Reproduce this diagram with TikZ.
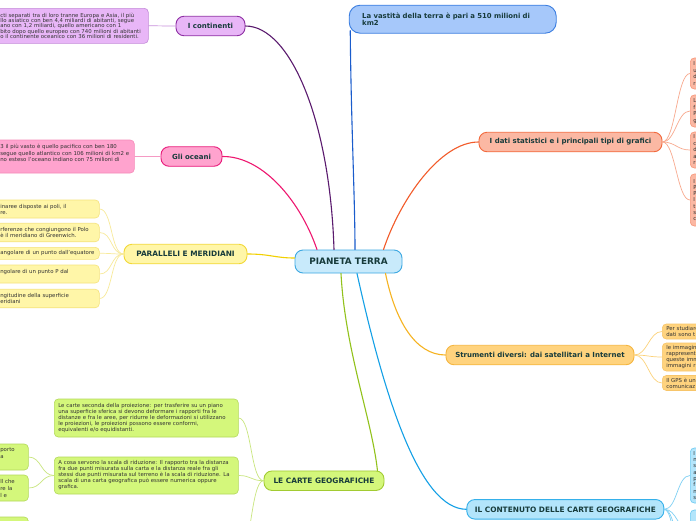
\documentclass[tikz,border=0pt]{standalone}
\usepackage{fontspec}
\setmainfont{DejaVu Sans}
\newcommand{\myline}[1]{\mbox{#1}}
\definecolor{nodetxt}{HTML}{173B3B}
\definecolor{leaftxt}{HTML}{333333}
\definecolor{ptF}{HTML}{C8EAFB}\definecolor{ptB}{HTML}{3CA8E2}
\definecolor{coF}{HTML}{E8B6F7}\definecolor{coB}{HTML}{8E2FA4}\definecolor{coL}{HTML}{C48AD9}\definecolor{coC}{HTML}{5A1A6E}\definecolor{coLC}{HTML}{C890DC}
\definecolor{ocF}{HTML}{FFA3CE}\definecolor{ocB}{HTML}{E8197A}\definecolor{ocL}{HTML}{F58AB8}\definecolor{ocC}{HTML}{EE1870}\definecolor{ocLC}{HTML}{F59AC4}
\definecolor{paF}{HTML}{FFF6A8}\definecolor{paB}{HTML}{F2D836}\definecolor{paL}{HTML}{F5E37C}\definecolor{paC}{HTML}{F2D000}\definecolor{paLC}{HTML}{F8EA9A}
\definecolor{caF}{HTML}{D4F77B}\definecolor{caB}{HTML}{A2CB32}\definecolor{caL}{HTML}{B3D95A}\definecolor{caC}{HTML}{92C21C}\definecolor{caLC}{HTML}{C9E67E}
\definecolor{vaF}{HTML}{A6C8FA}\definecolor{vaB}{HTML}{3A7DE0}\definecolor{vaC}{HTML}{1A5CCC}
\definecolor{daF}{HTML}{FBB8A3}\definecolor{daB}{HTML}{F26A3E}\definecolor{daL}{HTML}{F7977A}\definecolor{daC}{HTML}{F25B2A}\definecolor{daLC}{HTML}{F8A98E}
\definecolor{stF}{HTML}{FFD37E}\definecolor{stB}{HTML}{F5B640}\definecolor{stL}{HTML}{F7C56A}\definecolor{stC}{HTML}{F6B321}\definecolor{stLC}{HTML}{FCD27A}
\definecolor{kcF}{HTML}{B3E5FB}\definecolor{kcB}{HTML}{35B0EA}\definecolor{kcL}{HTML}{6CCAF2}\definecolor{kcC}{HTML}{14A0E6}\definecolor{kcLC}{HTML}{7FD0F4}
\tikzset{
 mainnode/.style={draw, line width=0.9pt, rounded corners=8pt, font=\bfseries\fontsize{7}{8}\selectfont, text=nodetxt, minimum height=19.5pt, inner sep=0pt},
 capsnode/.style={mainnode, font=\bfseries\fontsize{7.4}{8}\selectfont},
 leaf/.style={draw, line width=0.6pt, rounded corners=4pt, font=\fontsize{5.4}{6}\selectfont, text=leaftxt, align=left, inner xsep=4pt, inner ysep=0pt, anchor=west},
 mainconn/.style={line width=1.1pt},
 leafconn/.style={line width=0.7pt},
}
\begin{document}
\begin{tikzpicture}[x=1pt,y=-1pt,line cap=round]
\useasboundingbox (0,0) rectangle (696,520);
\clip (0,0) rectangle (696,520);
\fill[white] (0,0) rectangle (696,520);

% central
\node[mainnode, draw=ptB, fill=ptF, minimum width=107pt, minimum height=23pt, font=\bfseries\fontsize{8.9}{9}\selectfont] (pt) at (348.5,261.5) {PIANETA TERRA};

% continenti
\node[mainnode, draw=coB, fill=coF, minimum width=69pt] (co) at (210.5,26) {I continenti};
\node[leaf, draw=coL, fill=coF, inner xsep=6pt, text width=142pt, minimum height=35pt, font=\fontsize{5.4}{5.4}\selectfont] (coT) at (-6,25.8) {\myline{cti separati tra di loro tranne Europa e Asia, il più}\\\myline{llo asiatico con ben 4,4 miliardi di abitanti, segue}\\\myline{ano con 1,2 miliardi, quello americano con 1}\\\myline{bito dopo quello europeo con 740 milioni di abitanti}\\\myline{o il continente oceanico con 36 milioni di residenti.}};

% oceani
\node[mainnode, draw=ocB, fill=ocF, minimum width=61pt] (oc) at (191.5,156.5) {Gli oceani};
\node[leaf, draw=ocL, fill=ocF, inner xsep=6pt, text width=128pt, minimum height=33pt, font=\fontsize{5.4}{6.6}\selectfont] (ocT) at (-6,156.5) {\myline{3 il più vasto è quello pacifico con ben 180}\\\myline{segue quello atlantico con 106 milioni di km2 e}\\\myline{no esteso l'oceano indiano con 75 milioni di}\\\mbox{}};

% paralleli
\node[capsnode, draw=paB, fill=paF, minimum width=123pt] (pa) at (185.5,254) {PARALLELI E MERIDIANI};
\node[leaf, draw=paL, fill=paF, inner xsep=6pt, text width=93pt, minimum height=18pt] (p1) at (-6,209) {\myline{inaree disposte ai poli, il}\\\myline{re.}};
\node[leaf, draw=paL, fill=paF, inner xsep=6pt, text width=93pt, minimum height=18.5pt] (p2) at (-6,232.5) {\myline{rferenze che congiungono il Polo}\\\myline{è il meridiano di Greenwich.}};
\node[leaf, draw=paL, fill=paF, inner xsep=6pt, text width=93pt, minimum height=12pt] (p3) at (-6,253.3) {\myline{angolare di un punto dall'equatore}};
\node[leaf, draw=paL, fill=paF, inner xsep=6pt, text width=93pt, minimum height=18pt] (p4) at (-6,274) {\myline{ngolare di un punto P dal}\\\mbox{}};
\node[leaf, draw=paL, fill=paF, inner xsep=6pt, text width=93pt, minimum height=18.5pt] (p5) at (-6,298.5) {\myline{ngitudine della superficie}\\\myline{eridiani}};

% carte
\node[capsnode, draw=caB, fill=caF, minimum width=120pt] (ca) at (324,480.7) {LE CARTE GEOGRAFICHE};
\node[leaf, draw=caL, fill=caF, text width=176pt, minimum height=38pt] (cA) at (54,418) {\myline{Le carte seconda della proiezione: per trasferire su un piano}\\\myline{una superficie sferica si devono deformare i rapporti fra le}\\\myline{distanze e fra le aree, per ridurre le deformazioni si utilizzano}\\\myline{le proiezioni, le proiezioni possono essere conformi,}\\\myline{equivalenti e/o equidistanti.}};
\node[leaf, draw=caL, fill=caF, text width=176pt, minimum height=37pt] (cB) at (54,475.5) {\myline{A cosa servono la scala di riduzione: Il rapporto tra la distanza}\\\myline{fra due punti misurata sulla carta e la distanza reale fra gli}\\\myline{stessi due punti misurata sul terreno è la scala di riduzione. La}\\\myline{scala di una carta geografica può essere numerica oppure}\\\myline{grafica.}};
\node[leaf, draw=caL, fill=caF, inner xsep=6pt, text width=22pt, minimum height=26pt, font=\fontsize{5.4}{7.3}\selectfont] (s1) at (-6,457) {\myline{porto}\\\myline{a}\\\mbox{}};
\node[leaf, draw=caL, fill=caF, inner xsep=6pt, text width=22pt, minimum height=26pt, font=\fontsize{5.4}{7}\selectfont] (s2) at (-6,488) {\myline{ll che}\\\myline{re la}\\\myline{l e}};
\node[leaf, draw=caL, fill=caF, inner xsep=6pt, text width=22pt, minimum height=30pt] (s3) at (-6,532) {\mbox{}};
\coordinate (cC) at (238,560);

% vastita
\node[draw=vaB, fill=vaF, line width=0.9pt, rounded corners=11pt, font=\bfseries\fontsize{6.9}{7.8}\selectfont, text=nodetxt, align=left, text width=181pt, inner xsep=13pt, minimum height=28pt, inner ysep=0pt] (va) at (452.7,19.2) {\myline{La vastità della terra è pari a 510 milioni di}\\\myline{km2}};

% dati
\node[mainnode, draw=daB, fill=daF, minimum width=183pt] (da) at (570.5,142) {I dati statistici e i principali tipi di grafici};
\node[leaf, draw=daL, fill=daF, inner xsep=3pt, text width=150pt, minimum height=31pt, font=\fontsize{5.4}{6.5}\selectfont] (d1) at (690,73.5) {I\\u\\d\\r};
\node[leaf, draw=daL, fill=daF, inner xsep=3pt, text width=150pt, minimum height=32pt, font=\fontsize{5.4}{6.5}\selectfont] (d2) at (690,111) {L\\f\\P\\g};
\node[leaf, draw=daL, fill=daF, inner xsep=3pt, text width=150pt, minimum height=36pt, font=\fontsize{5.4}{6.5}\selectfont] (d3) at (690,150) {I\\c\\d\\a\\r};
\node[leaf, draw=daL, fill=daF, inner xsep=3pt, text width=150pt, minimum height=52pt, font=\fontsize{5.4}{6.3}\selectfont] (d4) at (690,200) {I\\P\\P\\I\\t\\s\\c};

% strumenti
\node[mainnode, draw=stB, fill=stF, minimum width=188pt] (st) at (540,355) {Strumenti diversi: dai satellitari a Internet};
\node[leaf, draw=stL, fill=stF, inner xsep=4pt, text width=150pt, minimum height=15pt] (t1) at (662,331.5) {\myline{Per studiare}\\\myline{dati sono t}};
\node[leaf, draw=stL, fill=stF, inner xsep=4pt, text width=150pt, minimum height=28pt] (t2) at (662,357) {\myline{le immagini}\\\myline{rappresent}\\\myline{queste imm}\\\myline{immagini r}};
\node[leaf, draw=stL, fill=stF, inner xsep=4pt, text width=150pt, minimum height=15pt] (t3) at (662,383) {\myline{Il GPS è un}\\\myline{comunicaz}};

% contenuto
\node[capsnode, draw=kcB, fill=kcF, minimum width=197pt] (kc) at (565.3,509.3) {IL CONTENUTO DELLE CARTE GEOGRAFICHE};
\node[leaf, draw=kcL, fill=kcF, inner xsep=3pt, text width=150pt, minimum height=55pt, font=\fontsize{5.4}{6.3}\selectfont] (k1) at (690,475.5) {I\\n\\s\\a\\p\\f\\n\\s};
\node[leaf, draw=kcL, fill=kcF, inner xsep=3pt, text width=150pt, minimum height=40pt] (k2) at (690,530) {\mbox{}};
\coordinate (k3) at (690,570);
\coordinate (k4) at (690,610);

% main connectors
\draw[mainconn, coC] (co.east) .. controls (290,26) and (330,120) .. ([xshift=-14.5pt]pt.north);
\draw[mainconn, ocC] (oc.east) .. controls (262,156) and (300,200) .. ([xshift=-31.5pt]pt.north);
\draw[mainconn, paC] (pa.east) .. controls (270,254) and (275,258) .. ([yshift=3.5pt]pt.west);
\draw[mainconn, vaC] ([xshift=1.5pt,yshift=3pt]va.south west) .. controls (351,120) and (355,200) .. ([xshift=6.5pt]pt.north);
\draw[mainconn, daC] ([xshift=35pt]pt.north) .. controls (400,200) and (440,142) .. (da.west);
\draw[mainconn, stC] ([xshift=37pt]pt.south) .. controls (395,320) and (415,355) .. (st.west);
\draw[mainconn, kcC] ([xshift=8.5pt]pt.south) .. controls (385,400) and (420,509) .. (kc.west);
\draw[mainconn, caC] ([xshift=-7.5pt]pt.south) .. controls (345,350) and (372,420) .. ([xshift=-7pt]ca.north east);

% leaf connectors
\draw[leafconn, coLC] (coT.east) .. controls +(12,0) and +(-12,0) .. (co.west);
\draw[leafconn, ocLC] (ocT.east) .. controls +(12,0) and +(-12,0) .. (oc.west);
\foreach \n in {p1,p2,p3,p4,p5}
  \draw[leafconn, paLC] (pa.west) .. controls +(-13,0) and +(13,0) .. (\n.east);
\draw[leafconn, caLC] (ca.west) .. controls +(-13,0) and +(13,0) .. (cA.east);
\draw[leafconn, caLC] (ca.west) .. controls +(-13,0) and +(13,0) .. (cB.east);
\draw[leafconn, caLC] (ca.west) .. controls +(-13,0) and +(13,0) .. (cC);
\foreach \n in {s1,s2}
  \draw[leafconn, caLC] (cB.west) .. controls +(-13,0) and +(13,0) .. (\n.east);
\foreach \n in {d1,d2,d3,d4}
  \draw[leafconn, daLC] (da.east) .. controls +(13,0) and +(-13,0) .. (\n.west);
\foreach \n in {t1,t2,t3}
  \draw[leafconn, stLC] (st.east) .. controls +(13,0) and +(-13,0) .. (\n.west);
\draw[leafconn, kcLC] (kc.east) .. controls +(13,0) and +(-13,0) .. (k1.west);
\draw[leafconn, kcLC] (kc.east) .. controls +(13,0) and +(-13,0) .. (k2.west);
\draw[leafconn, kcLC] (kc.east) .. controls +(13,0) and +(-13,0) .. (k3);
\draw[leafconn, kcLC] (kc.east) .. controls +(13,0) and +(-13,0) .. (k4);
\end{tikzpicture}
\end{document}
